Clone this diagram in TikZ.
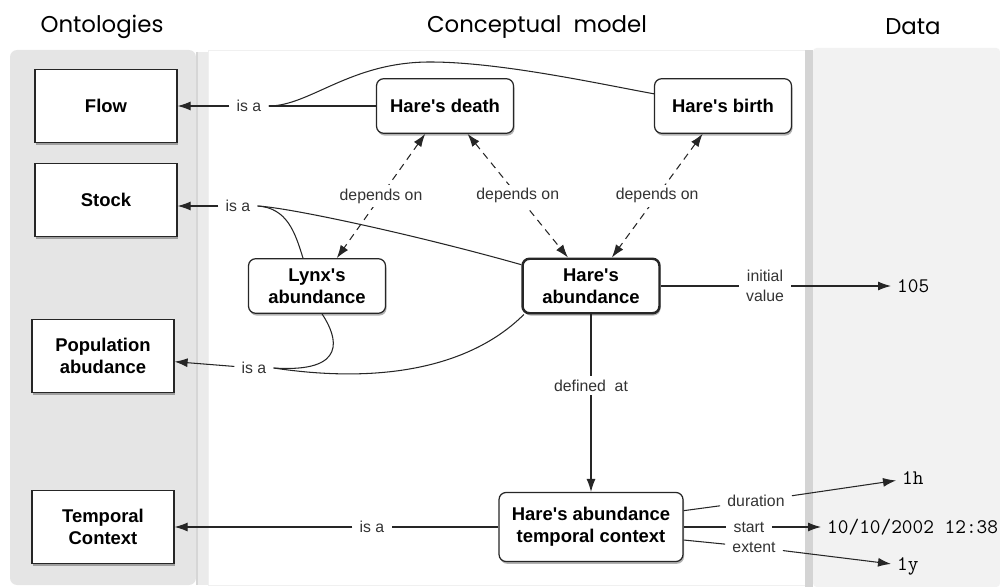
\documentclass[tikz,border=0pt]{standalone}
\usepackage{fontspec}
\setmainfont{Liberation Sans}
\newfontfamily\headfont{Poppins}
\usetikzlibrary{arrows.meta, shadows, calc}
\tikzset{
  headlbl/.style={font=\headfont\fontsize{13}{15}\selectfont},
  ontopanel/.style={fill=black!10, rounded corners=4pt},
  datapanel/.style={fill=black!5, rounded corners=2pt},
  panelgap/.style={fill=black!17},
  ontobox/.style={rectangle, draw=black!85, line width=0.7pt, fill=white,
                  minimum width=28.4mm, minimum height=14.5mm, align=center,
                  font=\fontsize{10.5}{12.5}\selectfont\bfseries,
                  drop shadow={shadow xshift=0.6pt, shadow yshift=-1.3pt, fill=black, opacity=0.3}},
  concbox/.style={ontobox, rounded corners=4pt, minimum width=27.4mm, minimum height=10.9mm},
  concmain/.style={concbox, line width=1.4pt},
  edgelbl/.style={font=\fontsize{9}{11}\selectfont, text=black!80, align=center,
                  inner xsep=4pt, inner ysep=2pt},
  deplbl/.style={edgelbl, fill=white},
  datalbl/.style={font=\ttfamily\fontsize{11.8}{13}\selectfont, anchor=west},
  relarr/.style={draw=black!85, line width=0.6pt},
  valarr/.style={relarr, -{Latex[length=2.6mm, width=1.8mm]}},
  deparr/.style={relarr, dash pattern=on 4pt off 3pt,
                 {Latex[length=2.6mm, width=1.8mm]}-{Latex[length=2.6mm, width=1.8mm]}},
}
\newcommand{\attr}[3]{\draw[relarr] (#1) -- (#2); \draw[valarr] (#2) -- (#3);}
\newcommand{\hare}{Hare\textquotesingle s}

\begin{document}
\begin{tikzpicture}[x=0.02cm, y=-0.02cm]

\useasboundingbox (0,0) rectangle (1000,587);

\fill[ontopanel] (10,50) rectangle (196,585);
\fill[black!8] (196,52) rectangle (208,585);
\draw[black!16, line width=0.8pt] (197,52) -- (197,585);
\draw[black!6] (208,50) rectangle (805,585);
\fill[panelgap] (805,50) rectangle (813,587);
\fill[datapanel] (813,48) rectangle (1000,587);

\node[headlbl] (hOnto) at (102,27) {Ontologies};
\node[headlbl] (hConc) at (537,27) {Conceptual\ \ model};
\node[headlbl] (hData) at (913,27) {Data};

\node[ontobox] (flow)   at (106,106) {Flow};
\node[ontobox] (stock)  at (106,200) {Stock};
\node[ontobox] (pop)    at (103,356) {Population\\abudance};
\node[ontobox] (tconto) at (103,527) {Temporal\\Context};

\node[concbox]  (death) at (445,106) {\hare{} death};
\node[concbox]  (birth) at (723,106) {\hare{} birth};
\node[concbox]  (lynx)  at (317,286) {Lynx\textquotesingle s\\abundance};
\node[concmain] (hab)   at (591,286) {\hare\\abundance};
\node[concbox, minimum width=36.8mm, minimum height=13.8mm] (tc) at (591,527)
  {\hare{} abundance\\temporal context};

\node[edgelbl] (isaflow)  at (249,106) {is a};
\node[edgelbl] (isastock) at (238,206) {is a};
\node[edgelbl] (isapop)   at (254,368) {is a};
\node[edgelbl] (isatc)    at (372,527) {is a};

\node[edgelbl] (ival)   at (765,286) {initial\\value};
\node[edgelbl] (dur)    at (756,501) {duration};
\node[edgelbl] (start)  at (749,527) {start};
\node[edgelbl] (ext)    at (754,547) {extent};

\node[datalbl] (v105)   at (891,286) {105};
\node[datalbl] (v1h)    at (896,478) {1h};
\node[datalbl] (vstart) at (821,527) {10/10/2002 12:38};
\node[datalbl] (v1y)    at (891,566) {1y};

\draw[relarr] (death) -- (isaflow);
\draw[valarr] (isaflow) -- (flow);
\draw[relarr] (isaflow.east) .. controls (310,106) and (350,62) .. (430,62)
  .. controls (500,62) and (600,84) .. (birth.170);

\draw[valarr] (isastock.west) -- (isastock.west -| stock.east);
\draw[relarr] (isastock.east) .. controls (287,208) and (295,232) .. ($(lynx.north)+(-14,0)$);
\draw[relarr] (isastock.east) .. controls (292,208) and (420,236) .. (hab.163);

\draw[valarr] (isapop) -- (pop);
\draw[relarr] (isapop.east) .. controls (348,373) and (338,338) .. ($(lynx.south)+(5,0)$);
\draw[relarr] (isapop.east) .. controls (380,384) and (470,368) .. (hab.203);

\foreach \src/\dst in {death/lynx, death/hab, birth/hab}{
  \draw[deparr] (\src) -- node[deplbl]{depends on} (\dst);
}

\attr{hab}{ival}{v105}
\draw[valarr] (hab) -- node[deplbl, pos=0.4]{defined\ \ at} (tc);

\draw[relarr] (tc) -- (isatc);
\draw[valarr] (isatc) -- (tconto);

\attr{tc.10}{dur}{v1h}
\attr{tc.east}{start}{vstart}
\attr{tc.-8}{ext}{v1y}

\end{tikzpicture}
\end{document}
